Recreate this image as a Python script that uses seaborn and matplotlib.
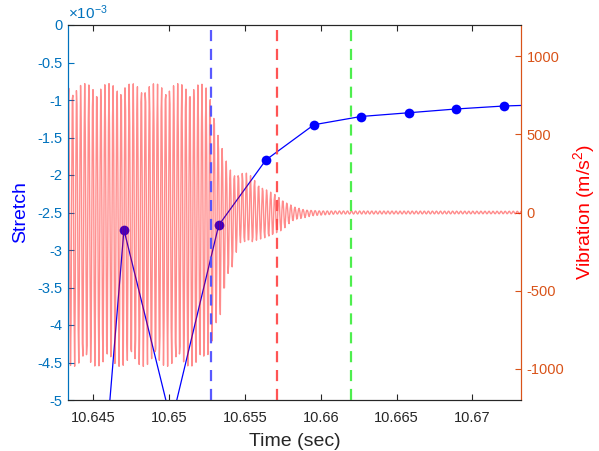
import numpy as np
import pandas as pd
import matplotlib
matplotlib.use("Agg")
import matplotlib.pyplot as plt
import seaborn as sns
from matplotlib.ticker import FuncFormatter, FixedLocator

# ---------------- data ----------------
# Stretch samples (left axis)
stretch_time = [10.64389, 10.64702, 10.65015, 10.65327, 10.65638, 10.65955,
                10.66265, 10.66581, 10.66891, 10.67208, 10.67520]
stretch_value = [-10.4e-3, -2.73e-3, -5.3e-3, -2.67e-3, -1.80e-3, -1.33e-3,
                 -1.22e-3, -1.17e-3, -1.12e-3, -1.08e-3, -1.06e-3]

# Vibration (right axis): envelope of the oscillation
env_up_time = [10.6433, 10.6520, 10.6524, 10.6527, 10.6530, 10.6532, 10.6535,
               10.6538, 10.6540, 10.6542, 10.6546, 10.6550, 10.6554, 10.6557,
               10.6560, 10.6563, 10.6567, 10.6571, 10.6577, 10.6583, 10.6590,
               10.6600, 10.6740]
env_up = [825, 825, 815, 770, 640, 520, 410, 320, 285, 250, 255, 258, 235, 205,
          175, 155, 130, 110, 66, 34, 16, 10, 8]
env_lo_time = [10.6433, 10.6523, 10.6526, 10.6531, 10.6534, 10.6536, 10.6539,
               10.6542, 10.6545, 10.6547, 10.6550, 10.6556, 10.6558, 10.6561,
               10.6564, 10.6567, 10.6569, 10.6572, 10.6575, 10.6578, 10.6583,
               10.6594, 10.6610, 10.6740]
env_lo = [-985, -985, -920, -710, -675, -555, -405, -345, -228, -195, -195,
          -195, -175, -168, -163, -158, -150, -124, -112, -80, -48, -22, -10, -8]
vib_freq_hz = 3750
vib_sample_rate = 25600
vib_start, vib_end = 10.6433, 10.6736

# Event markers (vertical dashed lines)
event_times = [10.65278, 10.65710, 10.66198]
event_colors = ["#5050ff", "#ff4b4b", "#44ee44"]

x_ticks = [10.645, 10.65, 10.655, 10.66, 10.665, 10.67]
left_ticks = [0, -0.5e-3, -1e-3, -1.5e-3, -2e-3, -2.5e-3, -3e-3, -3.5e-3,
              -4e-3, -4.5e-3, -5e-3]
right_ticks = [-1000, -500, 0, 500, 1000]

# ---------------- build the vibration trace ----------------
t = np.arange(vib_start, vib_end, 1.0 / vib_sample_rate)
carrier = np.sin(2 * np.pi * vib_freq_hz * (t - vib_start))
up = np.interp(t, env_up_time, env_up)
lo = np.interp(t, env_lo_time, env_lo)
vib = np.where(carrier >= 0, up * carrier, lo * (-carrier))
vib_df = pd.DataFrame({"time": t, "vib": vib})
stretch_df = pd.DataFrame({"time": stretch_time, "stretch": stretch_value})

# ---------------- styling ----------------
sns.set_style("white")
plt.rcParams["font.family"] = ["Liberation Sans", "DejaVu Sans"]
plt.rcParams["axes.unicode_minus"] = False
plt.rcParams["mathtext.fontset"] = "custom"
plt.rcParams["mathtext.rm"] = "Liberation Sans"
plt.rcParams["mathtext.it"] = "Liberation Sans"

LEFT_C = "#0072BD"
RIGHT_C = "#D95319"
DARK = "#262626"

fig = plt.figure(figsize=(5.99, 4.51), dpi=100)
ax1 = fig.add_axes([68 / 599, 1 - 400 / 451, (521 - 68) / 599, (400 - 25) / 451])
ax2 = ax1.twinx()

sns.lineplot(data=stretch_df, x="time", y="stretch", ax=ax1, color="#0000ff",
             lw=0.9, marker="o", markersize=7, markeredgewidth=0,
             estimator=None, sort=False)
sns.lineplot(data=vib_df, x="time", y="vib", ax=ax2, color="#ff0000",
             lw=1.0, alpha=0.45, estimator=None, sort=False)
for et, ec in zip(event_times, event_colors):
    ax2.axvline(et, color=ec, lw=1.6, ls=(0, (5, 3.5)), alpha=0.95)

ax1.set_xlim(10.64333, 10.67321)
ax1.set_ylim(-5e-3, 0)
ax2.set_ylim(-1200, 1200)

ax1.xaxis.set_major_locator(FixedLocator(x_ticks))
ax1.xaxis.set_major_formatter(FuncFormatter(lambda v, p: f"{v:g}"))
ax1.yaxis.set_major_locator(FixedLocator(left_ticks))
ax1.yaxis.set_major_formatter(FuncFormatter(lambda v, p: f"{v * 1e3:g}"))
ax2.yaxis.set_major_locator(FixedLocator(right_ticks))
ax2.yaxis.set_major_formatter(FuncFormatter(lambda v, p: f"{v:g}"))

ax1.tick_params(axis="x", direction="in", length=4, top=True, bottom=True,
                colors=DARK, labelsize=10.5, pad=8)
ax1.tick_params(axis="y", direction="in", length=4, colors=LEFT_C,
                labelsize=10.5, pad=4)
ax2.tick_params(axis="y", direction="in", length=4, colors=RIGHT_C,
                labelsize=10.5, pad=4)

for ax in (ax1, ax2):
    ax.spines["top"].set_color(DARK)
    ax.spines["bottom"].set_color(DARK)
    ax.spines["left"].set_color(LEFT_C)
    ax.spines["right"].set_color(RIGHT_C)
    for s in ax.spines.values():
        s.set_linewidth(0.8)

ax1.set_xlabel("Time (sec)", fontsize=14, color=DARK, labelpad=6)
ax1.set_ylabel("Stretch", fontsize=14, color="#0000ff", labelpad=6)
ax2.set_ylabel("Vibration (m/s$^2$)", fontsize=14, color="#ff0000", labelpad=5)
ax1.text(0.0, 1.008, r"$\times$10$^{-3}$", transform=ax1.transAxes,
         ha="left", va="bottom", fontsize=11, color=LEFT_C)

fig.savefig("out.png", dpi=100)
